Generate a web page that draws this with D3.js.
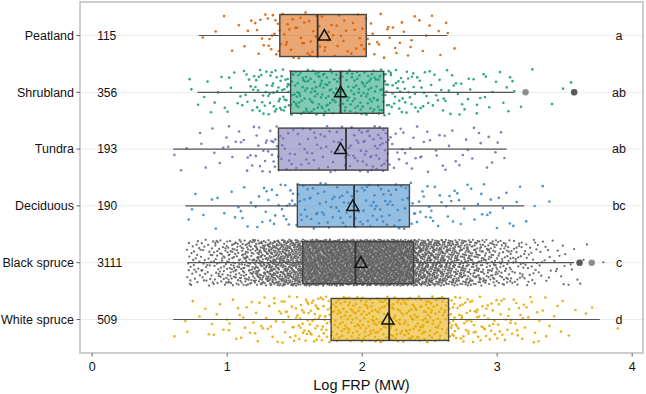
<!DOCTYPE html>
<html>
<head>
<meta charset="utf-8">
<script src="https://cdn.jsdelivr.net/npm/d3@7"></script>
<style>
  body { margin: 0; background: #fff; }
  text { font-family: "Liberation Sans", Arial, Helvetica, sans-serif; fill: #111; }
</style>
</head>
<body>
<div id="vis"></div>
<script>
const categories = ['Peatland', 'Shrubland', 'Tundra', 'Deciduous', 'Black spruce', 'White spruce']
const counts = [115, 356, 193, 190, 3111, 509]
const letters = ['a', 'ab', 'ab', 'bc', 'c', 'd']
const colors = ['#d95f02', '#1b9e77', '#7570b3', '#3a87c8', '#5f5f5f', '#e6ab02']

// box statistics (Log FRP)
const whiskerLow = [0.79, 0.78, 0.60, 0.69, 0.71, 0.60]
const q1 = [1.39, 1.47, 1.38, 1.52, 1.56, 1.77]
const medians = [1.67, 1.84, 1.88, 1.94, 1.95, 2.20]
const q3 = [2.03, 2.16, 2.19, 2.35, 2.38, 2.64]
const whiskerHigh = [2.63, 3.12, 3.07, 3.20, 3.57, 3.76]
const means = [1.72, 1.84, 1.84, 1.93, 1.99, 2.19]
const outliers = [[], [3.21, 3.57, 3.57], [], [], [3.61, 3.61, 3.70], []]

// jittered observations, counted in 0.1 wide bins starting at 0.5
const binStart = 0.5
const binWidth = 0.1
const peatlandBins = [0,0,0,1,2,2,3,7,13,9,10,10,8,8,7,8,6,6,5,4,3,3,0,0,0,0,0,0,0,0,0,0,0,0]
const shrublandBins = [0,0,3,3,4,6,10,16,20,26,27,27,27,20,26,26,26,18,14,10,9,8,7,6,5,5,3,1,0,2,1,0,0,0]
const tundraBins = [0,2,2,3,4,5,7,10,14,10,10,10,10,9,14,17,19,9,7,6,5,5,4,4,4,3,0,0,0,0,0,0,0,0]
const deciduousBins = [0,0,3,2,3,3,5,7,8,10,12,11,11,11,10,13,12,12,10,8,7,6,5,5,5,4,3,2,2,0,0,0,0,0]
const blackSpruceBins = [0,0,28,30,45,60,75,100,130,150,160,190,200,200,190,195,195,195,190,160,140,115,95,75,60,45,32,22,14,10,6,3,1,0]
const whiteSpruceBins = [0,2,3,3,5,6,7,8,10,14,20,25,24,30,32,32,30,32,32,32,30,28,22,18,15,14,12,8,6,4,2,1,1,1]
const bins = [peatlandBins, shrublandBins, tundraBins, deciduousBins, blackSpruceBins, whiteSpruceBins]

const xTicks = [0, 1, 2, 3, 4]

const W = 646, H = 394
const panel = {left: 80, top: 2, right: 643, bottom: 353}

const svg = d3.select('#vis').append('svg')
    .attr('width', W)
    .attr('height', H)

const x = d3.scaleLinear()
    .domain([-0.09, 4.08])
    .range([panel.left, panel.right])

const y = d3.scalePoint()
    .domain(categories)
    .range([panel.top, panel.bottom])
    .padding(0.59)

const boxH = 42
const jitterH = 46

// grid lines
svg.append('g').selectAll('line')
    .data(categories)
    .join('line')
    .attr('x1', panel.left).attr('x2', panel.right)
    .attr('y1', d => y(d)).attr('y2', d => y(d))
    .attr('stroke', '#ececec')
    .attr('stroke-width', 1)

// spread points of a bin over its cell (Halton layout, no randomness)
function halton(i, base) {
    let f = 1, r = 0
    while (i > 0) {
        f /= base
        r += f * (i % base)
        i = Math.floor(i / base)
    }
    return r
}

categories.forEach((cat, i) => {
    const pts = []
    bins[i].forEach((n, b) => {
        const offset = 7 + b * 23 + i * 101
        for (let k = 0; k < n; k++) {
            const fx = halton(offset + k, 2)
            const fy = halton(offset + k, 3)
            pts.push([binStart + binWidth * (b + fx), fy - 0.5])
        }
    })
    svg.append('g').selectAll('circle')
        .data(pts)
        .join('circle')
        .attr('cx', d => x(d[0]))
        .attr('cy', d => y(cat) + d[1] * jitterH)
        .attr('r', i === 4 ? 1.15 : 1.3)
        .attr('fill', colors[i])
        .attr('opacity', 0.9)
})

// boxes
const g = svg.append('g')
categories.forEach((cat, i) => {
    const cy = y(cat)
    g.append('line')
        .attr('x1', x(whiskerLow[i])).attr('x2', x(q1[i]))
        .attr('y1', cy).attr('y2', cy)
        .attr('stroke', '#555').attr('stroke-width', 1.2)
    g.append('line')
        .attr('x1', x(q3[i])).attr('x2', x(whiskerHigh[i]))
        .attr('y1', cy).attr('y2', cy)
        .attr('stroke', '#555').attr('stroke-width', 1.2)
    g.append('rect')
        .attr('x', x(q1[i]))
        .attr('y', cy - boxH / 2)
        .attr('width', x(q3[i]) - x(q1[i]))
        .attr('height', boxH)
        .attr('fill', colors[i])
        .attr('fill-opacity', 0.55)
        .attr('stroke', '#444')
        .attr('stroke-width', 1.4)
    g.append('line')
        .attr('x1', x(medians[i])).attr('x2', x(medians[i]))
        .attr('y1', cy - boxH / 2).attr('y2', cy + boxH / 2)
        .attr('stroke', '#333').attr('stroke-width', 1.8)
    g.selectAll(null)
        .data(outliers[i])
        .join('circle')
        .attr('cx', d => x(d))
        .attr('cy', cy)
        .attr('r', 3.2)
        .attr('fill', '#333')
        .attr('fill-opacity', 0.55)
    // mean triangle
    const mx = x(means[i])
    g.append('path')
        .attr('d', `M${mx - 6},${cy + 4.5}L${mx + 6},${cy + 4.5}L${mx},${cy - 6}Z`)
        .attr('fill', 'none')
        .attr('stroke', '#111')
        .attr('stroke-width', 1.5)
        .attr('stroke-linejoin', 'miter')
})

// panel border
svg.append('rect')
    .attr('x', panel.left).attr('y', panel.top)
    .attr('width', panel.right - panel.left)
    .attr('height', panel.bottom - panel.top)
    .attr('fill', 'none')
    .attr('stroke', '#c2c2c2')
    .attr('stroke-width', 1.6)

// y axis labels + ticks
svg.append('g').selectAll('line')
    .data(categories)
    .join('line')
    .attr('x1', panel.left - 3.5).attr('x2', panel.left)
    .attr('y1', d => y(d)).attr('y2', d => y(d))
    .attr('stroke', '#666').attr('stroke-width', 1)

svg.append('g').selectAll('text')
    .data(categories)
    .join('text')
    .attr('x', panel.left - 6)
    .attr('y', d => y(d))
    .attr('dy', '0.35em')
    .attr('text-anchor', 'end')
    .style('font-size', '12.5px')
    .text(d => d)

// counts
svg.append('g').selectAll('text')
    .data(categories)
    .join('text')
    .attr('x', x(0) + 5)
    .attr('y', d => y(d))
    .attr('dy', '0.35em')
    .style('font-size', '12px')
    .text((d, i) => counts[i])

// significance letters
svg.append('g').selectAll('text')
    .data(categories)
    .join('text')
    .attr('x', 619)
    .attr('y', d => y(d))
    .attr('dy', '0.35em')
    .attr('text-anchor', 'middle')
    .style('font-size', '12.5px')
    .text((d, i) => letters[i])

// x axis
svg.append('g').selectAll('line')
    .data(xTicks)
    .join('line')
    .attr('x1', d => x(d)).attr('x2', d => x(d))
    .attr('y1', panel.bottom).attr('y2', panel.bottom + 3.5)
    .attr('stroke', '#666').attr('stroke-width', 1)

svg.append('g').selectAll('text')
    .data(xTicks)
    .join('text')
    .attr('x', d => x(d))
    .attr('y', 371)
    .attr('text-anchor', 'middle')
    .style('font-size', '12.5px')
    .text(d => d)

svg.append('text')
    .attr('x', (panel.left + panel.right) / 2)
    .attr('y', 390)
    .attr('text-anchor', 'middle')
    .style('font-size', '14.5px')
    .text('Log FRP (MW)')
</script>
</body>
</html>
